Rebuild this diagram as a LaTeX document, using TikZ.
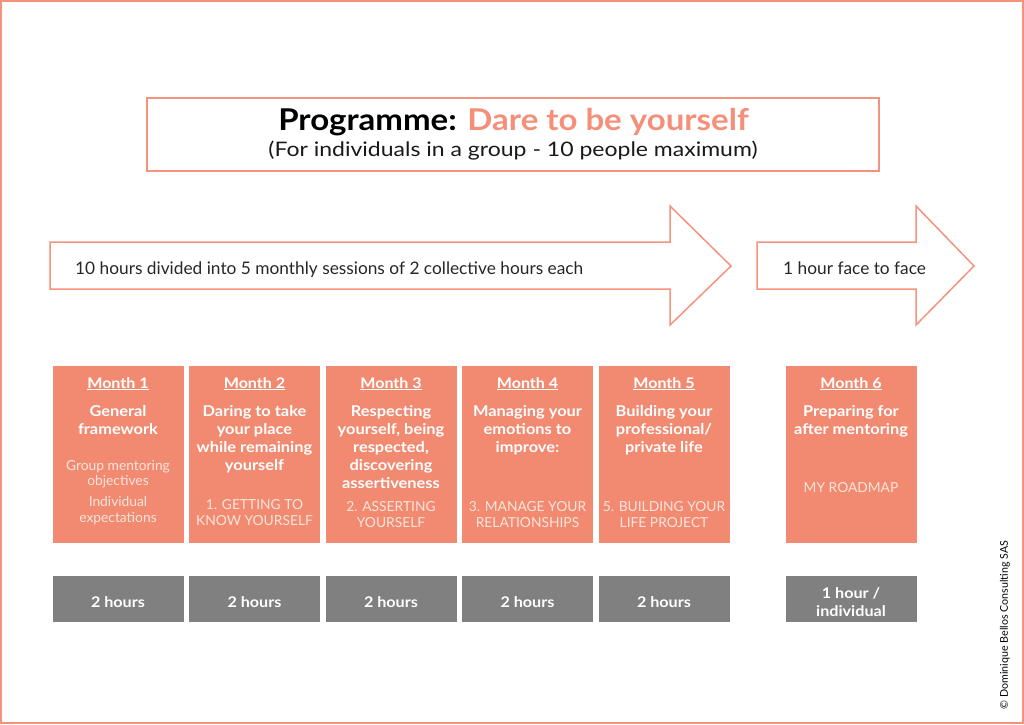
\documentclass[tikz,border=0pt]{standalone}
\usepackage{fontspec}
\setmainfont{Lato}[BoldFeatures={FakeStretch=1.1}]
\newfontfamily\widefont{Lato}[FakeStretch=1.15]
\definecolor{salmon}{HTML}{F18A70}
\definecolor{linesal}{HTML}{F4937C}
\definecolor{titlesal}{HTML}{F4907A}
\definecolor{greyb}{HTML}{808080}
\definecolor{paletxt}{HTML}{FDE5DC}
\newcommand{\boxlines}[6]{%
  \foreach \t [count=\i from 0] in {#6}
    \node[#4, anchor=base] (#5-\i) at (#1, #2+\i*#3) {\t};}
\begin{document}
\begin{tikzpicture}[x=1pt,y=-1pt,
  monthbox/.style={fill=salmon, draw=none, minimum width=131pt, minimum height=177pt, inner sep=0pt},
  hourbox/.style={fill=greyb, draw=none, minimum width=131pt, minimum height=45.5pt, inner sep=0pt},
  outl/.style={draw=linesal, line width=1.5pt},
  headtxt/.style={text=white, font=\fontsize{14.6}{16}\selectfont\bfseries, inner sep=0pt},
  boldtxt/.style={text=white, font=\fontsize{14.9}{16}\selectfont\bfseries, inner sep=0pt},
  regtxt/.style={text=paletxt, font=\fontsize{13.8}{15}\selectfont, inner sep=0pt},
  hourtxt/.style={text=white, font=\fontsize{14.7}{17}\selectfont\bfseries, inner sep=0pt},
  arrtxt/.style={text=black!85, font=\fontsize{17.3}{19}\selectfont, inner sep=0pt}]
\useasboundingbox (0,0) rectangle (1024,724);
\draw[draw=linesal, line width=2pt] (1,1) rectangle (1023,723);
% title
\node[outl, minimum width=732pt, minimum height=73pt, inner sep=0pt] (titlebox) at (513,134.5) {};
\node[anchor=base, inner sep=0pt, font=\fontsize{30}{32}\selectfont\bfseries] (title) at (513.5,130)
  {Programme: \textcolor{titlesal}{Dare to be yourself}};
\node[anchor=base, inner sep=0pt, font=\fontsize{20}{22}\selectfont\widefont, text=black!90] (subtitle) at (513,156)
  {(For individuals in a group - 10 people maximum)};
% arrows
\draw[outl] (50,242) -- (670,242) -- (670,206) -- (731,266) -- (670,325) -- (670,289) -- (50,289) -- cycle;
\draw[outl] (757,242) -- (916,242) -- (916,206) -- (974,266) -- (916,325) -- (916,289) -- (757,289) -- cycle;
\node[arrtxt, anchor=base west] (arrow1txt) at (75,274) {10 hours divided into 5 monthly sessions of 2 collective hours each};
\node[arrtxt, anchor=base west] (arrow2txt) at (783,274) {1 hour face to face};
% month boxes
\foreach \i/\x in {1/118,2/254.5,3/391,4/527.5,5/664,6/851}{
  \node[monthbox] (m\i) at (\x,454.5) {};
  \node[headtxt, anchor=base] (mh\i) at (\x,388) {\underline{Month \i}};
}
\foreach \i/\x in {1/118,2/254.5,3/391,4/527.5,5/664}{
  \node[hourbox] (h\i) at (\x,598.75) {};
  \node[hourtxt, anchor=base] (ht\i) at (\x,607.3) {2 hours};
}
\node[hourbox] (h6) at (851,598.75) {};
\boxlines{851}{598.3}{17.7}{hourtxt}{ht6}{1 hour /,individual}
% month texts
\boxlines{118}{416}{18}{boldtxt}{b1}{General,framework}
\boxlines{118}{470}{15.5}{regtxt}{ra1}{Group mentoring,objectives}
\boxlines{118}{506.7}{15.5}{regtxt}{rb1}{Individual,expectations}
\boxlines{254.5}{416}{18}{boldtxt}{b2}{Daring to take,your place,while remaining,yourself}
\boxlines{254.5}{509}{16}{regtxt}{r2}{1. GETTING TO,KNOW YOURSELF}
\boxlines{391}{416}{18}{boldtxt}{b3}{Respecting,{yourself, being},{respected,},discovering,assertiveness}
\boxlines{391}{511.7}{15.5}{regtxt}{r3}{2. ASSERTING,YOURSELF}
\boxlines{527.5}{416}{18}{boldtxt}{b4}{Managing your,emotions to,improve:}
\boxlines{527.5}{511.7}{15.5}{regtxt}{r4}{3. MANAGE YOUR,RELATIONSHIPS}
\boxlines{664}{416}{18}{boldtxt}{b5}{Building your,professional/,private life}
\boxlines{664}{511.7}{15.5}{regtxt}{r5}{5. BUILDING YOUR,LIFE PROJECT}
\boxlines{851}{416}{18}{boldtxt}{b6}{Preparing for,after mentoring}
\node[regtxt, anchor=base] (r6-0) at (851,492.7) {MY ROADMAP};
% copyright
\node[rotate=90, inner sep=0pt, font=\fontsize{10.7}{12}\selectfont] (copy) at (1005,625) {© Dominique Bellos Consulting SAS};
\end{tikzpicture}
\end{document}
